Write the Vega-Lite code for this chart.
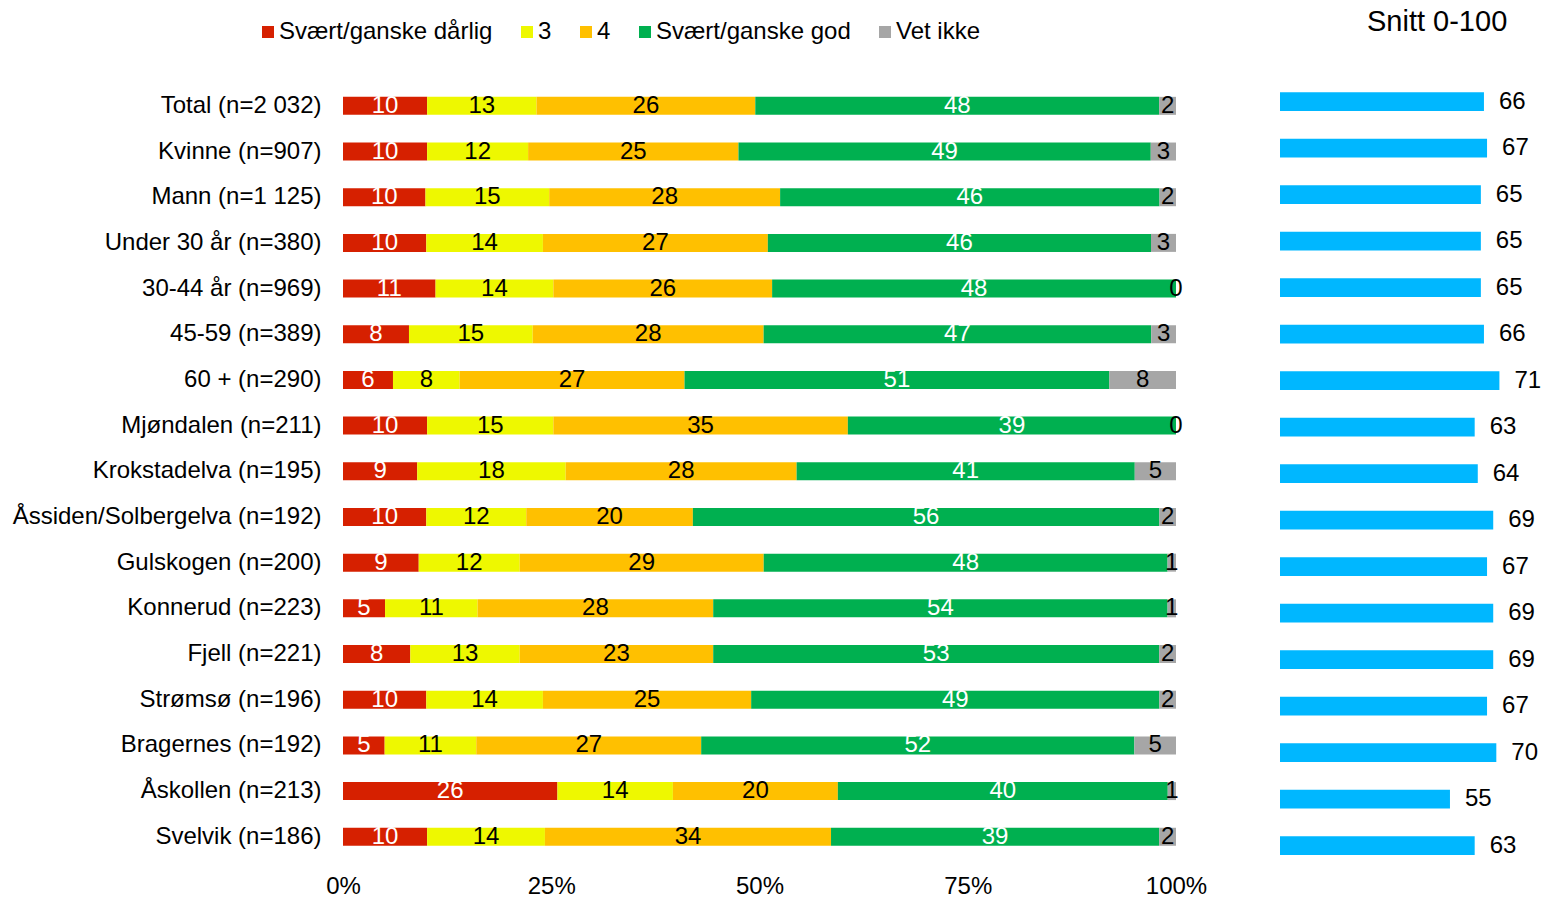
{
  "$schema": "https://vega.github.io/schema/vega-lite/v6.json",
  "padding": {"left": 12, "top": 8, "right": 0, "bottom": 0},
  "background": "white",
  "config": {
    "font": "Liberation Sans",
    "view": {"stroke": null},
    "axis": {"labelFont": "Liberation Sans", "labelColor": "black"},
    "legend": {"labelFont": "Liberation Sans"},
    "title": {"font": "Liberation Sans"}
  },
  "datasets": {
    "bars": [
      {"group": "Total (n=2 032)", "cat": "Svært/ganske dårlig", "ord": 1, "value": 10},
      {"group": "Total (n=2 032)", "cat": "3", "ord": 2, "value": 13},
      {"group": "Total (n=2 032)", "cat": "4", "ord": 3, "value": 26},
      {"group": "Total (n=2 032)", "cat": "Svært/ganske god", "ord": 4, "value": 48},
      {"group": "Total (n=2 032)", "cat": "Vet ikke", "ord": 5, "value": 2},
      {"group": "Kvinne (n=907)", "cat": "Svært/ganske dårlig", "ord": 1, "value": 10},
      {"group": "Kvinne (n=907)", "cat": "3", "ord": 2, "value": 12},
      {"group": "Kvinne (n=907)", "cat": "4", "ord": 3, "value": 25},
      {"group": "Kvinne (n=907)", "cat": "Svært/ganske god", "ord": 4, "value": 49},
      {"group": "Kvinne (n=907)", "cat": "Vet ikke", "ord": 5, "value": 3},
      {"group": "Mann (n=1 125)", "cat": "Svært/ganske dårlig", "ord": 1, "value": 10},
      {"group": "Mann (n=1 125)", "cat": "3", "ord": 2, "value": 15},
      {"group": "Mann (n=1 125)", "cat": "4", "ord": 3, "value": 28},
      {"group": "Mann (n=1 125)", "cat": "Svært/ganske god", "ord": 4, "value": 46},
      {"group": "Mann (n=1 125)", "cat": "Vet ikke", "ord": 5, "value": 2},
      {"group": "Under 30 år (n=380)", "cat": "Svært/ganske dårlig", "ord": 1, "value": 10},
      {"group": "Under 30 år (n=380)", "cat": "3", "ord": 2, "value": 14},
      {"group": "Under 30 år (n=380)", "cat": "4", "ord": 3, "value": 27},
      {"group": "Under 30 år (n=380)", "cat": "Svært/ganske god", "ord": 4, "value": 46},
      {"group": "Under 30 år (n=380)", "cat": "Vet ikke", "ord": 5, "value": 3},
      {"group": "30-44 år (n=969)", "cat": "Svært/ganske dårlig", "ord": 1, "value": 11},
      {"group": "30-44 år (n=969)", "cat": "3", "ord": 2, "value": 14},
      {"group": "30-44 år (n=969)", "cat": "4", "ord": 3, "value": 26},
      {"group": "30-44 år (n=969)", "cat": "Svært/ganske god", "ord": 4, "value": 48},
      {"group": "30-44 år (n=969)", "cat": "Vet ikke", "ord": 5, "value": 0},
      {"group": "45-59 (n=389)", "cat": "Svært/ganske dårlig", "ord": 1, "value": 8},
      {"group": "45-59 (n=389)", "cat": "3", "ord": 2, "value": 15},
      {"group": "45-59 (n=389)", "cat": "4", "ord": 3, "value": 28},
      {"group": "45-59 (n=389)", "cat": "Svært/ganske god", "ord": 4, "value": 47},
      {"group": "45-59 (n=389)", "cat": "Vet ikke", "ord": 5, "value": 3},
      {"group": "60 + (n=290)", "cat": "Svært/ganske dårlig", "ord": 1, "value": 6},
      {"group": "60 + (n=290)", "cat": "3", "ord": 2, "value": 8},
      {"group": "60 + (n=290)", "cat": "4", "ord": 3, "value": 27},
      {"group": "60 + (n=290)", "cat": "Svært/ganske god", "ord": 4, "value": 51},
      {"group": "60 + (n=290)", "cat": "Vet ikke", "ord": 5, "value": 8},
      {"group": "Mjøndalen (n=211)", "cat": "Svært/ganske dårlig", "ord": 1, "value": 10},
      {"group": "Mjøndalen (n=211)", "cat": "3", "ord": 2, "value": 15},
      {"group": "Mjøndalen (n=211)", "cat": "4", "ord": 3, "value": 35},
      {"group": "Mjøndalen (n=211)", "cat": "Svært/ganske god", "ord": 4, "value": 39},
      {"group": "Mjøndalen (n=211)", "cat": "Vet ikke", "ord": 5, "value": 0},
      {"group": "Krokstadelva (n=195)", "cat": "Svært/ganske dårlig", "ord": 1, "value": 9},
      {"group": "Krokstadelva (n=195)", "cat": "3", "ord": 2, "value": 18},
      {"group": "Krokstadelva (n=195)", "cat": "4", "ord": 3, "value": 28},
      {"group": "Krokstadelva (n=195)", "cat": "Svært/ganske god", "ord": 4, "value": 41},
      {"group": "Krokstadelva (n=195)", "cat": "Vet ikke", "ord": 5, "value": 5},
      {"group": "Åssiden/Solbergelva (n=192)", "cat": "Svært/ganske dårlig", "ord": 1, "value": 10},
      {"group": "Åssiden/Solbergelva (n=192)", "cat": "3", "ord": 2, "value": 12},
      {"group": "Åssiden/Solbergelva (n=192)", "cat": "4", "ord": 3, "value": 20},
      {"group": "Åssiden/Solbergelva (n=192)", "cat": "Svært/ganske god", "ord": 4, "value": 56},
      {"group": "Åssiden/Solbergelva (n=192)", "cat": "Vet ikke", "ord": 5, "value": 2},
      {"group": "Gulskogen (n=200)", "cat": "Svært/ganske dårlig", "ord": 1, "value": 9},
      {"group": "Gulskogen (n=200)", "cat": "3", "ord": 2, "value": 12},
      {"group": "Gulskogen (n=200)", "cat": "4", "ord": 3, "value": 29},
      {"group": "Gulskogen (n=200)", "cat": "Svært/ganske god", "ord": 4, "value": 48},
      {"group": "Gulskogen (n=200)", "cat": "Vet ikke", "ord": 5, "value": 1},
      {"group": "Konnerud (n=223)", "cat": "Svært/ganske dårlig", "ord": 1, "value": 5},
      {"group": "Konnerud (n=223)", "cat": "3", "ord": 2, "value": 11},
      {"group": "Konnerud (n=223)", "cat": "4", "ord": 3, "value": 28},
      {"group": "Konnerud (n=223)", "cat": "Svært/ganske god", "ord": 4, "value": 54},
      {"group": "Konnerud (n=223)", "cat": "Vet ikke", "ord": 5, "value": 1},
      {"group": "Fjell (n=221)", "cat": "Svært/ganske dårlig", "ord": 1, "value": 8},
      {"group": "Fjell (n=221)", "cat": "3", "ord": 2, "value": 13},
      {"group": "Fjell (n=221)", "cat": "4", "ord": 3, "value": 23},
      {"group": "Fjell (n=221)", "cat": "Svært/ganske god", "ord": 4, "value": 53},
      {"group": "Fjell (n=221)", "cat": "Vet ikke", "ord": 5, "value": 2},
      {"group": "Strømsø (n=196)", "cat": "Svært/ganske dårlig", "ord": 1, "value": 10},
      {"group": "Strømsø (n=196)", "cat": "3", "ord": 2, "value": 14},
      {"group": "Strømsø (n=196)", "cat": "4", "ord": 3, "value": 25},
      {"group": "Strømsø (n=196)", "cat": "Svært/ganske god", "ord": 4, "value": 49},
      {"group": "Strømsø (n=196)", "cat": "Vet ikke", "ord": 5, "value": 2},
      {"group": "Bragernes (n=192)", "cat": "Svært/ganske dårlig", "ord": 1, "value": 5},
      {"group": "Bragernes (n=192)", "cat": "3", "ord": 2, "value": 11},
      {"group": "Bragernes (n=192)", "cat": "4", "ord": 3, "value": 27},
      {"group": "Bragernes (n=192)", "cat": "Svært/ganske god", "ord": 4, "value": 52},
      {"group": "Bragernes (n=192)", "cat": "Vet ikke", "ord": 5, "value": 5},
      {"group": "Åskollen (n=213)", "cat": "Svært/ganske dårlig", "ord": 1, "value": 26},
      {"group": "Åskollen (n=213)", "cat": "3", "ord": 2, "value": 14},
      {"group": "Åskollen (n=213)", "cat": "4", "ord": 3, "value": 20},
      {"group": "Åskollen (n=213)", "cat": "Svært/ganske god", "ord": 4, "value": 40},
      {"group": "Åskollen (n=213)", "cat": "Vet ikke", "ord": 5, "value": 1},
      {"group": "Svelvik (n=186)", "cat": "Svært/ganske dårlig", "ord": 1, "value": 10},
      {"group": "Svelvik (n=186)", "cat": "3", "ord": 2, "value": 14},
      {"group": "Svelvik (n=186)", "cat": "4", "ord": 3, "value": 34},
      {"group": "Svelvik (n=186)", "cat": "Svært/ganske god", "ord": 4, "value": 39},
      {"group": "Svelvik (n=186)", "cat": "Vet ikke", "ord": 5, "value": 2}
    ],
    "snitt": [
      {"group": "Total (n=2 032)", "snitt": 66},
      {"group": "Kvinne (n=907)", "snitt": 67},
      {"group": "Mann (n=1 125)", "snitt": 65},
      {"group": "Under 30 år (n=380)", "snitt": 65},
      {"group": "30-44 år (n=969)", "snitt": 65},
      {"group": "45-59 (n=389)", "snitt": 66},
      {"group": "60 + (n=290)", "snitt": 71},
      {"group": "Mjøndalen (n=211)", "snitt": 63},
      {"group": "Krokstadelva (n=195)", "snitt": 64},
      {"group": "Åssiden/Solbergelva (n=192)", "snitt": 69},
      {"group": "Gulskogen (n=200)", "snitt": 67},
      {"group": "Konnerud (n=223)", "snitt": 69},
      {"group": "Fjell (n=221)", "snitt": 69},
      {"group": "Strømsø (n=196)", "snitt": 67},
      {"group": "Bragernes (n=192)", "snitt": 70},
      {"group": "Åskollen (n=213)", "snitt": 55},
      {"group": "Svelvik (n=186)", "snitt": 63}
    ]
  },
  "hconcat": [
    {
      "width": 833,
      "height": 776.6,
      "data": {"name": "bars"},
      "encoding": {
        "y": {
          "field": "group", "type": "nominal", "sort": null,
          "scale": {"paddingInner": 0.606, "paddingOuter": 0.303},
          "axis": {"title": null, "domain": false, "ticks": false, "tickSize": 0, "labelFontSize": 24, "labelPadding": 22, "labelLimit": 500}
        }
      },
      "layer": [
        {
          "mark": {"type": "bar"},
          "encoding": {
            "x": {
              "field": "value", "type": "quantitative", "stack": "normalize",
              "scale": {"domain": [0, 1]},
              "axis": {"title": null, "format": ".0%", "values": [0, 0.25, 0.5, 0.75, 1], "grid": false, "domain": false, "ticks": false, "tickSize": 0, "labelFontSize": 24, "labelPadding": 15, "labelFlush": false}
            },
            "color": {
              "field": "cat", "type": "nominal",
              "scale": {
                "domain": ["Svært/ganske dårlig", "3", "4", "Svært/ganske god", "Vet ikke"],
                "range": ["#D62000", "#EEF800", "#FFC000", "#00B050", "#A6A6A6"]
              },
              "legend": {
                "title": null, "orient": "none", "direction": "horizontal",
                "legendX": -87, "legendY": -63,
                "symbolType": "square", "symbolSize": 144, "symbolStrokeWidth": 0,
                "labelFontSize": 24, "labelOffset": -1, "columnPadding": 22, "padding": 0, "labelColor": "black", "labelLimit": 500
              }
            },
            "order": {"field": "ord", "type": "quantitative"}
          }
        },
        {
          "mark": {"type": "text", "fontSize": 24, "baseline": "middle", "align": "center"},
          "encoding": {
            "x": {"field": "value", "type": "quantitative", "stack": "normalize", "bandPosition": 0.5},
            "detail": {"field": "cat"},
            "order": {"field": "ord", "type": "quantitative"},
            "text": {"field": "value", "type": "quantitative"},
            "color": {"condition": {"test": "datum.ord === 1 || datum.ord === 4", "value": "white"}, "value": "black"}
          }
        }
      ]
    },
    {
      "width": 250,
      "height": 781.2,
      "data": {"name": "snitt"},
      "title": {"text": "Snitt 0-100", "fontSize": 29, "fontWeight": "normal", "anchor": "start", "dx": 87, "dy": -42, "color": "black"},
      "encoding": {
        "y": {"field": "group", "type": "nominal", "sort": null, "axis": null, "scale": {"paddingInner": 0.6, "paddingOuter": 0.2}},
        "x": {"field": "snitt", "type": "quantitative", "axis": null, "scale": {"domain": [0, 80.9]}}
      },
      "layer": [
        {"mark": {"type": "bar", "color": "#00B7FF"}},
        {"mark": {"type": "text", "align": "left", "baseline": "middle", "dx": 15, "fontSize": 24, "color": "black"}, "encoding": {"text": {"field": "snitt", "type": "quantitative"}}}
      ]
    }
  ],
  "spacing": 104,
  "bounds": "flush"
}
